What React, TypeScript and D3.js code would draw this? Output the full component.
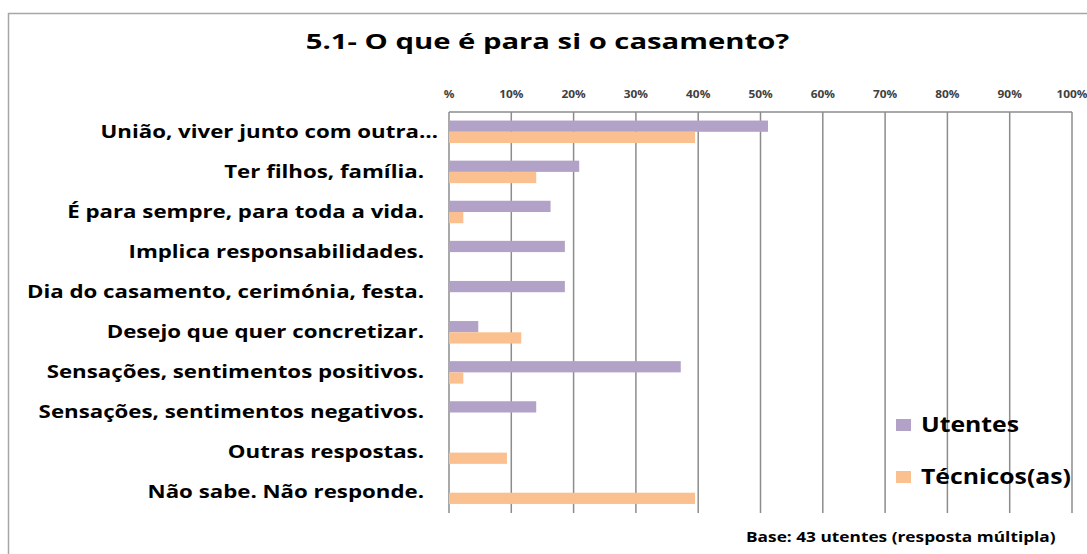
import React from "react";
import * as d3 from "d3";

const categories = [
  "União, viver junto com outra…",
  "Ter filhos, família.",
  "É para sempre, para toda a vida.",
  "Implica responsabilidades.",
  "Dia do casamento, cerimónia, festa.",
  "Desejo que quer concretizar.",
  "Sensações, sentimentos positivos.",
  "Sensações, sentimentos negativos.",
  "Outras respostas.",
  "Não sabe. Não responde.",
];
const utentes = [51.2, 20.9, 16.3, 18.6, 18.6, 4.7, 37.2, 14.0, 0, 0];
const tecnicos = [39.5, 14.0, 2.3, 0, 0, 11.6, 2.3, 0, 9.3, 39.5];
const seriesNames = ["Utentes", "Técnicos(as)"];
const seriesColors = ["#B3A2C7", "#FAC090"];
const tickValues = [0, 10, 20, 30, 40, 50, 60, 70, 80, 90, 100];
const tickLabels = ["%", "10%", "20%", "30%", "40%", "50%", "60%", "70%", "80%", "90%", "100%"];
const title = "5.1- O que é para si o casamento?";
const footnote = "Base: 43 utentes (resposta múltipla)";

const W = 1087;
const H = 554;
const FONT = "'Open Sans', sans-serif";

function T({
  x,
  y,
  sx,
  anchor = "start",
  size,
  fill = "#000",
  children,
}: {
  x: number;
  y: number;
  sx: number;
  anchor?: string;
  size: number;
  fill?: string;
  children: React.ReactNode;
}) {
  return (
    <text
      transform={`translate(${x},${y}) scale(${sx},1)`}
      textAnchor={anchor}
      fontSize={size}
      fontWeight={700}
      fill={fill}
    >
      {children}
    </text>
  );
}

export default function App() {
  const x = d3.scaleLinear().domain([0, 100]).range([449, 1072]);
  const y = d3.scaleBand<string>().domain(categories).range([112, 513]).padding(0);
  const step = y.step();
  const sub = d3
    .scaleBand<string>()
    .domain(seriesNames)
    .range([step / 2 - 11.5, step / 2 + 11])
    .padding(0);
  const series = [utentes, tecnicos];

  return (
    <svg
      width={W}
      height={H}
      style={{ position: "absolute", left: 0, top: 0, background: "#fff" }}
      fontFamily={FONT}
    >
      <rect x={0} y={0} width={W} height={H} fill="#fff" />
      {/* chart frame */}
      <rect x={8.5} y={13.5} width={W + 20} height={H + 20} fill="none" stroke="#a6a6a6" strokeWidth={1.5} />

      <T x={547.5} y={49} sx={1.33} anchor="middle" size={22}>
        {title}
      </T>

      {/* plot area top & gridlines */}
      <line x1={x(0)} x2={x(100)} y1={112} y2={112} stroke="#8c8c8c" strokeWidth={1.5} />
      {tickValues.map((t) => (
        <line key={t} x1={x(t)} x2={x(t)} y1={112} y2={513} stroke="#8c8c8c" strokeWidth={1.5} />
      ))}
      {tickValues.map((t, i) => (
        <T key={"tl" + t} x={x(t)} y={97.5} sx={1.13} anchor="middle" size={10.5} fill="#404040">
          {tickLabels[i]}
        </T>
      ))}

      {/* bars */}
      {series.map((vals, si) =>
        categories.map((c, ci) =>
          vals[ci] > 0 ? (
            <rect
              key={si + "-" + ci}
              x={x(0)}
              y={(y(c) as number) + (sub(seriesNames[si]) as number)}
              width={x(vals[ci]) - x(0)}
              height={sub.bandwidth()}
              fill={seriesColors[si]}
            />
          ) : null
        )
      )}

      {/* category labels */}
      {categories.map((c, ci) => (
        <T
          key={"c" + ci}
          x={ci === 0 ? 438 : 424}
          y={(y(c) as number) + step / 2 + 5.5}
          sx={1.31}
          anchor="end"
          size={17}
        >
          {c}
        </T>
      ))}

      {/* legend */}
      {seriesNames.map((s, i) => (
        <g key={"lg" + s} transform={`translate(896, ${419 + i * 52})`}>
          <rect x={0} y={0} width={15} height={12} fill={seriesColors[i]} />
          <T x={25} y={13} sx={1.18} size={21}>
            {s}
          </T>
        </g>
      ))}

      <T x={746} y={542} sx={1.28} size={13.5}>
        {footnote}
      </T>
    </svg>
  );
}
